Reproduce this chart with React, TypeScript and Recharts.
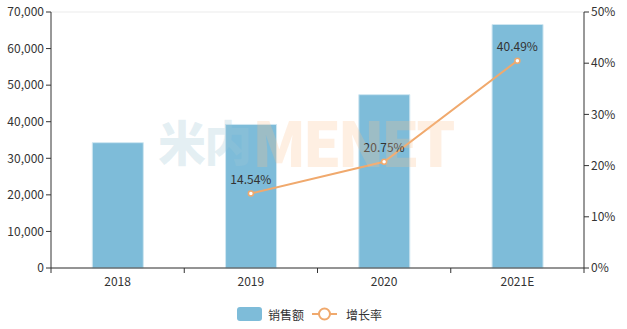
import React from 'react';
import { ComposedChart, Bar, Line, XAxis, YAxis, CartesianGrid, Legend, LabelList } from 'recharts';

const categories = ['2018', '2019', '2020', '2021E'];
const salesValues = [34270, 39250, 47395, 66585];
const growthValues: (number | null)[] = [null, 14.54, 20.75, 40.49];
const leftTicks = [0, 10000, 20000, 30000, 40000, 50000, 60000, 70000];
const rightTicks = [0, 10, 20, 30, 40, 50];

const data = categories.map((c, i) => ({ name: c, sales: salesValues[i], growth: growthValues[i] }));

const BAR = '#7ebcd9';
const LINE = '#f0a96d';
const FONT = '"Noto Sans CJK SC", "Noto Sans", sans-serif';

const XTick = (props: any) => {
  const { x, y, payload, index } = props;
  const off = payload && typeof payload.offset === 'number' ? payload.offset : 0;
  return (
    <g>
      <line x1={x - off} x2={x - off} y1={y - 8} y2={y - 3} stroke="#333" />
      {index === categories.length - 1 && (
        <line x1={x + off} x2={x + off} y1={y - 8} y2={y - 3} stroke="#333" />
      )}
      <text x={x} y={y + 10} textAnchor="middle" fill="#333" fontSize={12} fontFamily={FONT}>
        {payload.value}
      </text>
    </g>
  );
};

const LegendContent = () => (
  <div style={{ display: 'flex', justifyContent: 'center', alignItems: 'center', height: 20, fontFamily: FONT, fontSize: 12, color: '#333', paddingRight: 8 }}>
    <svg width={25} height={14} style={{ marginRight: 6 }}>
      <rect x={0} y={0} width={25} height={14} rx={3} fill={BAR} />
    </svg>
    <span style={{ marginRight: 8 }}>销售额</span>
    <svg width={25} height={14} style={{ marginRight: 9 }}>
      <line x1={0} x2={25} y1={7} y2={7} stroke={LINE} strokeWidth={2} />
      <circle cx={12.5} cy={7} r={5.5} fill="#fff" stroke={LINE} strokeWidth={2} />
    </svg>
    <span>增长率</span>
  </div>
);

export default function App() {
  return (
    <div style={{ position: 'absolute', left: 0, top: 0, width: 627, height: 329, background: '#fff' }}>
      <ComposedChart
        width={627}
        height={329}
        data={data}
        margin={{ top: 12, right: 0, bottom: 5, left: 0 }}
        barCategoryGap="31%"
      >
        <CartesianGrid vertical={false} stroke="#ebebeb" />
        <XAxis
          dataKey="name"
          height={36}
          stroke="#333"
          tickLine={false}
          tick={<XTick />}
          interval={0}
        />
        <YAxis
          yAxisId="left"
          width={51}
          domain={[0, 70000]}
          ticks={leftTicks}
          stroke="#333"
          tickSize={5}
          tick={{ fill: '#333', fontSize: 12, fontFamily: FONT }}
          tickFormatter={(v: number) => v.toLocaleString('en-US')}
        />
        <YAxis
          yAxisId="right"
          orientation="right"
          width={43}
          domain={[0, 50]}
          ticks={rightTicks}
          stroke="#333"
          tickSize={5}
          tick={{ fill: '#333', fontSize: 12, fontFamily: FONT }}
          tickFormatter={(v: number) => `${v}%`}
        />
        <Legend verticalAlign="bottom" height={20} content={<LegendContent />} />
        <Bar yAxisId="left" dataKey="sales" fill={BAR} stroke="#cfe6f1" strokeWidth={1} isAnimationActive={false} />
        <Line
          yAxisId="right"
          dataKey="growth"
          stroke={LINE}
          strokeWidth={2}
          dot={{ r: 2.5, fill: '#fff', stroke: LINE, strokeWidth: 1.5 }}
          isAnimationActive={false}
        >
          <LabelList
            dataKey="growth"
            position="top"
            offset={10}
            fill="#333"
            fontSize={12}
            fontFamily={FONT}
            formatter={(v: any) => (v == null ? '' : `${Number(v).toFixed(2)}%`)}
          />
        </Line>
      </ComposedChart>
      <div
        style={{
          position: 'absolute',
          left: 158,
          top: 116,
          height: 48,
          fontFamily: '"Noto Sans CJK SC", sans-serif',
          fontWeight: 900,
          pointerEvents: 'none',
          whiteSpace: 'nowrap',
          display: 'flex',
          alignItems: 'center',
        }}
      >
        <span style={{ color: 'rgba(160,200,215,0.28)', fontSize: 48, lineHeight: '48px', height: 48, letterSpacing: -2 }}>米内</span>
        <span style={{ color: 'rgba(250,190,140,0.25)', fontSize: 62, lineHeight: '48px', height: 48, letterSpacing: -4, marginLeft: 2 }}>MENET</span>
      </div>
    </div>
  );
}
